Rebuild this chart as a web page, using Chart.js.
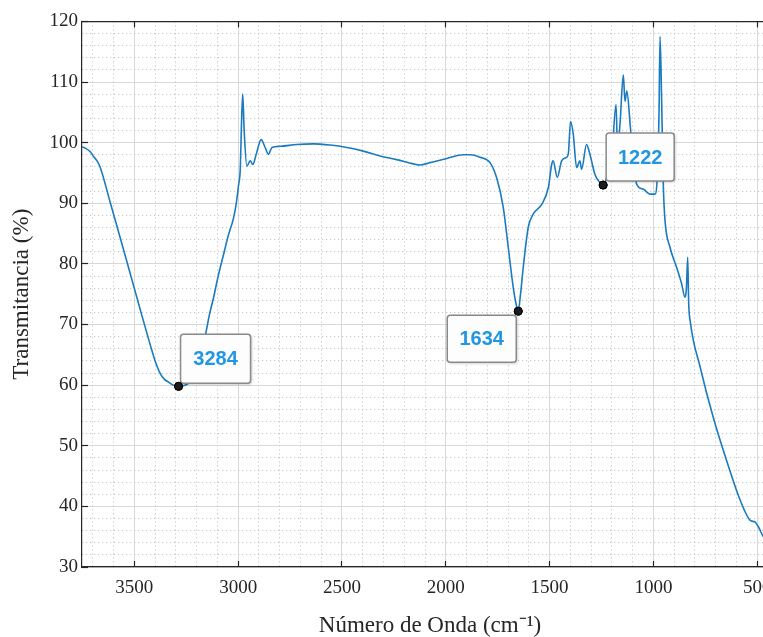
<!DOCTYPE html>
<html>
<head>
<meta charset="utf-8">
<script src="https://cdn.jsdelivr.net/npm/chart.js@4.4.1/dist/chart.umd.min.js"></script>
<style>
  html, body { margin: 0; padding: 0; background: #fff; overflow: hidden; }
  #wrap { width: 763px; height: 637px; overflow: hidden; }
  #box { width: 790px; height: 637px; position: relative; }
</style>
</head>
<body>
<div id="wrap"><div id="box"><canvas id="c"></canvas></div></div>
<script>
// FTIR spectrum
const wavenumber = [
  3752, 3736, 3712, 3696, 3678, 3664, 3615, 3567, 3519, 3471,
  3423, 3399, 3375, 3356, 3335, 3313, 3287, 3264, 3240, 3216,
  3192, 3158, 3139, 3118, 3096, 3070, 3048, 3022, 3009, 2998,
  2990, 2983, 2978, 2971, 2958, 2942, 2929, 2913, 2889, 2870,
  2854, 2837, 2797, 2717, 2637, 2557, 2476, 2397, 2316, 2236,
  2156, 2124, 2076, 1995, 1915, 1883, 1835, 1787, 1755, 1723,
  1699, 1675, 1662, 1651, 1640, 1627, 1603, 1579, 1538, 1506,
  1490, 1483, 1463, 1442, 1421, 1410, 1399, 1386, 1370, 1354,
  1346, 1322, 1306, 1282, 1258, 1242, 1219, 1200, 1180, 1173,
  1161, 1145, 1137, 1128, 1112, 1098, 1080, 1048, 1016, 992,
  981, 973, 968, 961, 952, 944, 920, 888, 864, 848,
  841, 835, 830, 823, 775, 712, 648, 582, 534, 510,
  494, 471, 438, 400
];
const transmittance = [
  99.3, 99.1, 98.5, 97.7, 96.9, 95.9, 90.0, 84.2, 78.3, 72.4,
  66.6, 63.9, 61.9, 61.0, 60.5, 60.0, 59.8, 59.9, 60.3, 61.3,
  63.8, 68.2, 71.5, 74.5, 78.0, 81.6, 84.6, 87.6, 90.0, 93.0,
  95.5, 104, 108, 102, 96.1, 97.0, 96.4, 98.1, 100.5, 99.2,
  98.1, 99.2, 99.4, 99.7, 99.8, 99.6, 99.2, 98.6, 97.8, 97.2,
  96.5, 96.3, 96.7, 97.4, 98.0, 98.0, 97.6, 96.7, 94.2, 89.3,
  82.7, 76.1, 73.5, 72.2, 75, 79.4, 86, 88.2, 89.8, 92.6,
  96.4, 97, 94.3, 97, 97.5, 98.1, 103.5, 101.4, 95.9, 97,
  95.6, 99.7, 98.1, 94.8, 93.4, 93.0, 95, 98, 106.3, 99,
  103, 111.2, 106.8, 108.5, 103, 97, 93.1, 92.3, 91.5, 91.5,
  94.8, 105, 117.5, 108, 92.6, 87.1, 82.7, 79.4, 76.7, 74.5,
  76, 81.1, 73.4, 70.6, 63, 54.7, 47.6, 41, 37.7, 37.4,
  36.6, 35.0, 33.8, 33
];

// marked peaks (datatips)
const peakWavenumber = [3287, 1651, 1242];
const peakTransmittance = [59.8, 72.2, 93.0];
const peakLabels = ['3284', '1634', '1222'];

const xMajorTicks = [3500, 3000, 2500, 2000, 1500, 1000, 500];
const yMajorTicks = [30, 40, 50, 60, 70, 80, 90, 100, 110, 120];

const X_MIN = 400, X_MAX = 3752, Y_MIN = 30, Y_MAX = 120;

const xGridTicks = [];
for (let v = 400; v <= 3700; v += 100) xGridTicks.push(v);
const yGridTicks = [];
for (let v = Y_MIN; v <= Y_MAX; v += 2) yGridTicks.push(v);

const isMajorX = v => xMajorTicks.includes(v);
const isMajorY = v => yMajorTicks.includes(v);

const axisColor = '#262626';
const tickFont = { family: 'Liberation Serif', size: 19 };
const titleFont = { family: 'Liberation Serif', size: 23, lineHeight: 1.0 };

const datatips = {
  id: 'datatips',
  afterDatasetsDraw(chart, args, opts) {
    const meta = chart.getDatasetMeta(1);
    const ctx = chart.ctx;
    meta.data.forEach((pt, i) => {
      const b = opts.boxes[i];
      const x = pt.x + b.dx, y = pt.y + b.dy;
      ctx.save();
      ctx.shadowColor = 'rgba(0,0,0,0.28)';
      ctx.shadowBlur = 3;
      ctx.shadowOffsetX = 1;
      ctx.shadowOffsetY = 1;
      ctx.beginPath();
      ctx.roundRect(x, y, b.w, b.h, 3);
      ctx.fillStyle = '#fdfdfd';
      ctx.fill();
      ctx.shadowColor = 'transparent';
      ctx.lineWidth = 1.5;
      ctx.strokeStyle = '#8a8a8a';
      ctx.stroke();
      ctx.fillStyle = '#2196e3';
      ctx.font = 'bold 20px "Liberation Sans", Arial, sans-serif';
      ctx.textAlign = 'center';
      ctx.textBaseline = 'middle';
      ctx.fillText(peakLabels[i], x + b.w / 2, y + b.h / 2 + 1);
      ctx.restore();
      pt.draw(ctx);
    });
  }
};

new Chart(document.getElementById('c').getContext('2d'), {
  type: 'line',
  data: {
    datasets: [
      {
        data: wavenumber.map((w, i) => ({ x: w, y: transmittance[i] })),
        borderColor: '#1a7bbf',
        borderWidth: 1.6,
        pointRadius: 0,
        cubicInterpolationMode: 'monotone',
        order: 2
      },
      {
        data: peakWavenumber.map((w, i) => ({ x: w, y: peakTransmittance[i] })),
        showLine: false,
        pointRadius: 4,
        pointBackgroundColor: '#1c1c1c',
        pointBorderColor: '#000',
        pointBorderWidth: 1,
        order: 1
      }
    ]
  },
  options: {
    responsive: true,
    maintainAspectRatio: false,
    animation: false,
    layout: { padding: { left: 0, right: 12, top: 0, bottom: 0 } },
    plugins: {
      legend: { display: false },
      tooltip: { enabled: false },
      datatips: {
        boxes: [
          { dx: 2, dy: -52, w: 70, h: 49 },
          { dx: -71, dy: 4, w: 69, h: 47 },
          { dx: 3, dy: -52, w: 68, h: 48 }
        ]
      }
    },
    scales: {
      x: {
        type: 'linear',
        position: 'bottom',
        reverse: true,
        min: X_MIN,
        max: X_MAX,
        afterBuildTicks: s => { s.ticks = xGridTicks.map(v => ({ value: v })); },
        afterFit: s => { s.height = 70; },
        ticks: {
          autoSkip: false,
          maxRotation: 0,
          padding: 16,
          color: axisColor,
          font: tickFont,
          callback: v => (isMajorX(v) ? String(v) : '')
        },
        grid: {
          color: c => (c.tick && isMajorX(c.tick.value) ? '#d8d8d8' : '#b8b8b8'),
          lineWidth: 1,
          tickLength: -6,
          tickWidth: 1.2,
          tickColor: c => (c.tick && isMajorX(c.tick.value) ? axisColor : 'rgba(0,0,0,0)')
        },
        border: {
          display: true,
          color: axisColor,
          width: 1.2,
          dash: c => (c.tick && !isMajorX(c.tick.value) ? [1, 3] : [])
        },
        title: {
          display: true,
          text: 'Número de Onda (cm⁻¹)',
          color: axisColor,
          font: titleFont,
          padding: { top: 0, bottom: 0 }
        }
      },
      xTop: {
        type: 'linear',
        position: 'top',
        reverse: true,
        min: X_MIN,
        max: X_MAX,
        afterBuildTicks: s => { s.ticks = xMajorTicks.map(v => ({ value: v })); },
        afterFit: s => { s.height = 20; },
        ticks: { display: false },
        grid: { drawOnChartArea: false, tickLength: -6, tickWidth: 1.2, tickColor: axisColor },
        border: { display: true, color: axisColor, width: 1.2 }
      },
      y: {
        type: 'linear',
        position: 'left',
        min: Y_MIN,
        max: Y_MAX,
        afterBuildTicks: s => { s.ticks = yGridTicks.map(v => ({ value: v })); },
        afterFit: s => { s.width = 82; },
        ticks: {
          autoSkip: false,
          padding: 10,
          color: axisColor,
          font: tickFont,
          callback: v => (isMajorY(v) ? String(v) : '')
        },
        grid: {
          color: c => (c.tick && isMajorY(c.tick.value) ? '#d8d8d8' : '#b8b8b8'),
          lineWidth: 1,
          tickLength: -6,
          tickWidth: 1.2,
          tickColor: c => (c.tick && isMajorY(c.tick.value) ? axisColor : 'rgba(0,0,0,0)')
        },
        border: {
          display: true,
          color: axisColor,
          width: 1.2,
          dash: c => (c.tick && !isMajorY(c.tick.value) ? [1, 3] : [])
        },
        title: {
          display: true,
          text: 'Transmitancia (%)',
          color: axisColor,
          font: titleFont,
          padding: { top: 10, bottom: 0 }
        }
      }
    }
  },
  plugins: [datatips]
});
</script>
</body>
</html>
